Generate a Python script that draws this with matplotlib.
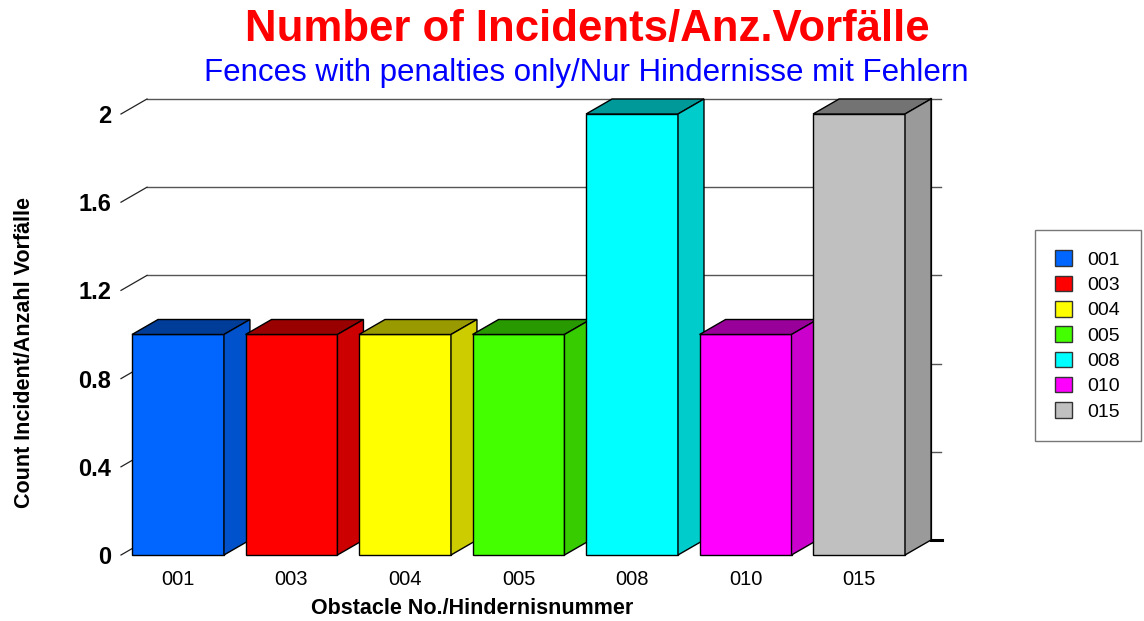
import matplotlib
matplotlib.use("Agg")
import matplotlib.pyplot as plt
from matplotlib.patches import Polygon, Patch
import numpy as np

plt.rcParams['font.family'] = ['Liberation Sans', 'DejaVu Sans']

# data
obstacles = ['001', '003', '004', '005', '008', '010', '015']
counts = [1, 1, 1, 1, 2, 1, 2]
colors = ['#0066ff', '#ff0000', '#ffff00', '#44ff00', '#00ffff', '#ff00ff', '#c0c0c0']
yticks = [0, 0.4, 0.8, 1.2, 1.6, 2]
ytick_labels = ['0', '0.4', '0.8', '1.2', '1.6', '2']

# fake 3d depth (in data units)
DX = 0.229
DY = 0.068
W = 0.81
X_LEFT = -0.502
X_RIGHT = 6.405


def shade(c, f):
    r, g, b = matplotlib.colors.to_rgb(c)
    return (r * f, g * f, b * f)


fig = plt.figure(figsize=(11.44, 6.21), dpi=100)
ax = fig.add_axes([121 / 1144, 66 / 621, 820 / 1144, 456 / 621])
ax.set_xlim(X_LEFT, X_RIGHT + DX + 0.088)
ax.set_ylim(0, 2 + DY)
for s in ax.spines.values():
    s.set_visible(False)

# back wall grid + diagonal ticks
for v in yticks:
    ax.plot([X_LEFT + DX, X_RIGHT + DX + 0.088], [v + DY, v + DY],
            color='#555555', lw=1.0, zorder=1, clip_on=False)
    ax.plot([X_LEFT, X_LEFT + DX], [v, v + DY], color='#222222', lw=0.9,
            zorder=1, clip_on=False)
ax.plot([X_RIGHT + DX, X_RIGHT + DX], [DY, 2 + DY], color='black', lw=1.6,
        zorder=1, clip_on=False)
ax.plot([X_RIGHT + DX, X_RIGHT + DX + 0.1], [DY, DY], color='black', lw=2.2,
        zorder=1, clip_on=False)

# bars
x = np.arange(len(obstacles))
for i, (h, c) in enumerate(zip(counts, colors)):
    z = 3 + i
    ax.bar(x[i], h, width=W, color=c, edgecolor='black', linewidth=1.0,
           zorder=z, clip_on=False)
    l, r = x[i] - W / 2, x[i] + W / 2
    top = Polygon([(l, h), (r, h), (r + DX, h + DY), (l + DX, h + DY)],
                  closed=True, facecolor=shade(c, 0.6), edgecolor='black',
                  lw=1.0, zorder=z, clip_on=False)
    side = Polygon([(r, 0), (r + DX, DY), (r + DX, h + DY), (r, h)],
                   closed=True, facecolor=shade(c, 0.8), edgecolor='black',
                   lw=1.0, zorder=z, clip_on=False)
    ax.add_patch(top)
    ax.add_patch(side)

ax.set_yticks(yticks)
ax.set_yticklabels(ytick_labels, fontsize=17, fontweight='bold')
ax.set_xticks(x)
ax.set_xticklabels(obstacles, fontsize=14.5)
ax.tick_params(axis='y', length=0, pad=7)
ax.tick_params(axis='x', length=0, pad=11)

fig.text(472 / 1144, 1 - 608 / 621, 'Obstacle No./Hindernisnummer',
         ha='center', va='center', fontsize=15.5, fontweight='bold')
fig.text(25 / 1144, 1 - 352 / 621, 'Count Incident/Anzahl Vorfälle',
         rotation=90, ha='center', va='center', fontsize=15.5,
         fontweight='bold')

fig.text(587 / 1144, 1 - 29 / 621, 'Number of Incidents/Anz.Vorfälle',
         color='#ff0000', fontsize=31.5, fontweight='bold', ha='center',
         va='center')
fig.text(586 / 1144, 1 - 73 / 621,
         'Fences with penalties only/Nur Hindernisse mit Fehlern',
         color='#0000ff', fontsize=22.5, ha='center', va='center')

handles = [Patch(facecolor=c, edgecolor='#333333', label=o)
           for o, c in zip(obstacles, colors)]
leg = fig.legend(handles=handles, loc='upper left',
                 bbox_to_anchor=(1035 / 1144, 1 - 230 / 621),
                 fontsize=14, frameon=True, fancybox=False,
                 edgecolor='#555555', handlelength=0.85, handleheight=0.85,
                 labelspacing=0.35, borderpad=1.05, handletextpad=0.8,
                 borderaxespad=0)
leg.get_frame().set_linewidth(1.0)

fig.savefig('out.png', dpi=100)
